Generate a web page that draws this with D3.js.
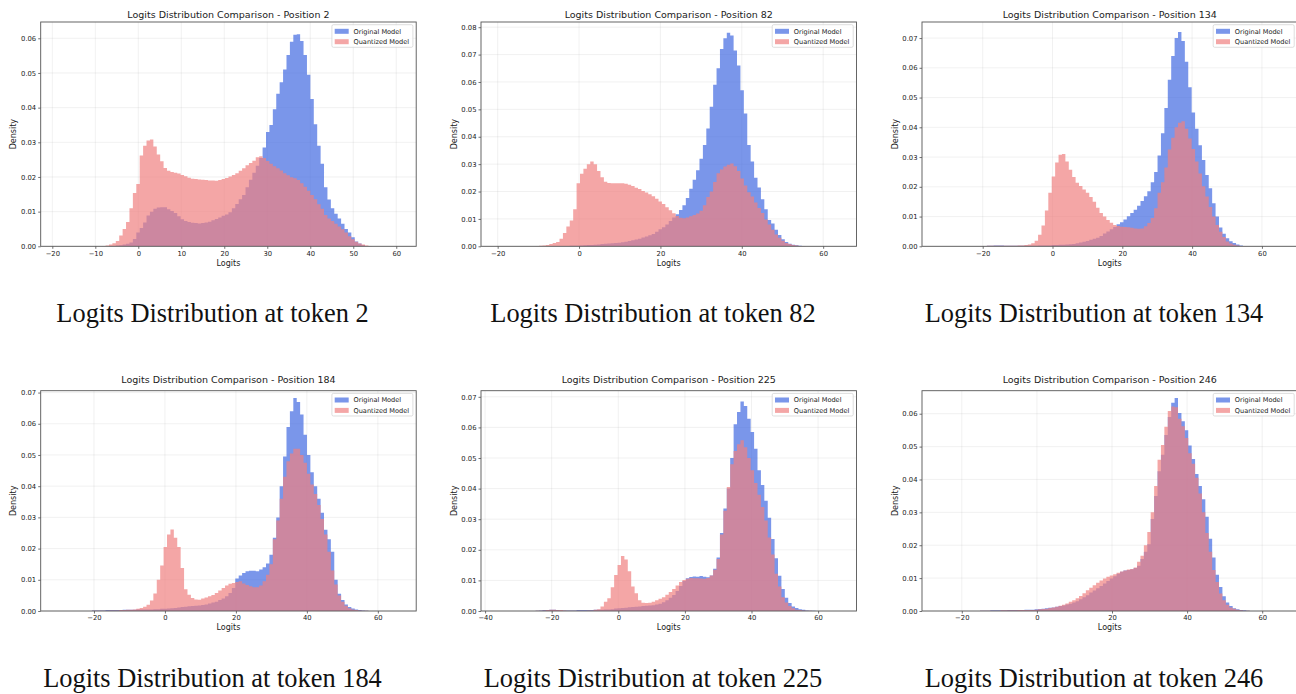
<!DOCTYPE html>
<html>
<head>
<meta charset="utf-8">
<script src="https://cdn.jsdelivr.net/npm/d3@7"></script>
<style>
  body { margin: 0; background: #fff; }
  text { font-family: "DejaVu Sans", sans-serif; }
</style>
</head>
<body>
<div id="chart"></div>
<script>
// token positions, one panel each
var positions = [2, 82, 134, 184, 225, 246];

// histogram bins: left edge of bin 0, bin width, index of the first listed bin
var binStarts = [-18.73, -19.9, -32.5, -30.2, -36.1, -26.05];
var binWidths = [0.794, 0.839, 0.978, 0.962, 1.025, 0.909];
var firstBins = [13, 11, 12, 10, 11, 12];

// y axis tops and tick labels
var yMaxes = [0.0647, 0.0819, 0.0754, 0.0706, 0.072, 0.067];
var yTickLabels = [
  [0, 0.01, 0.02, 0.03, 0.04, 0.05, 0.06],
  [0, 0.01, 0.02, 0.03, 0.04, 0.05, 0.06, 0.07, 0.08],
  [0, 0.01, 0.02, 0.03, 0.04, 0.05, 0.06, 0.07],
  [0, 0.01, 0.02, 0.03, 0.04, 0.05, 0.06, 0.07],
  [0, 0.01, 0.02, 0.03, 0.04, 0.05, 0.06, 0.07],
  [0, 0.01, 0.02, 0.03, 0.04, 0.05, 0.06]
];
var xTickLabels = [
  [-20, -10, 0, 10, 20, 30, 40, 50, 60],
  [-20, 0, 20, 40, 60],
  [-20, 0, 20, 40, 60],
  [-20, 0, 20, 40, 60],
  [-40, -20, 0, 20, 40, 60],
  [-20, 0, 20, 40, 60]
];

// densities per bin (Original Model)
var original2 = [0,0,0.0001,0.0001,0.0002,0.0003,0.0005,0.0007,0.0011,0.0021,
  0.0040,0.0053,0.0069,0.0089,0.0100,0.0108,0.0112,0.0113,0.0113,0.0107,
  0.0102,0.0096,0.0087,0.0078,0.0073,0.0070,0.0068,0.0067,0.0066,0.0067,
  0.0069,0.0071,0.0075,0.0079,0.0083,0.0088,0.0092,0.0098,0.0110,0.0122,
  0.0136,0.0148,0.0170,0.0192,0.0212,0.0232,0.0255,0.0285,0.0330,0.0350,
  0.0395,0.0440,0.0473,0.0510,0.0552,0.0590,0.0610,0.0612,0.0592,0.0552,
  0.0495,0.0425,0.0352,0.0290,0.0238,0.0170,0.0135,0.0110,0.0094,0.0080,
  0.0065,0.0050,0.0040,0.0026,0.0014,0.0008,0.0003,0.0001,0.0001];
var original82 = [0,0,0,0,0,0.0001,0.0001,0.0001,0.0001,0.0001,
  0.0002,0.0002,0.0002,0.0003,0.0004,0.0005,0.0005,0.0006,0.0007,0.0008,
  0.0009,0.0010,0.0011,0.0012,0.0013,0.0015,0.0017,0.0019,0.0022,0.0025,
  0.0028,0.0032,0.0036,0.0040,0.0045,0.0053,0.0062,0.0070,0.0080,0.0092,
  0.0105,0.0117,0.0133,0.0150,0.0176,0.0210,0.0243,0.0278,0.0320,0.0370,
  0.0430,0.0510,0.0590,0.0650,0.0720,0.0760,0.0780,0.0770,0.0715,0.0660,
  0.0570,0.0485,0.0370,0.0310,0.0250,0.0215,0.0172,0.0135,0.0096,0.0083,
  0.0060,0.0041,0.0026,0.0016,0.0009,0.0006,0.0004,0.0002,0.0001];
var original134 = [0.0001,0.0001,0.0002,0.0002,0.0003,0.0003,0.0003,0.0002,0.0002,0.0002,
  0.0002,0.0002,0.0002,0.0002,0.0002,0.0002,0.0002,0.0003,0.0003,0.0003,
  0.0003,0.0004,0.0004,0.0005,0.0005,0.0006,0.0007,0.0008,0.0010,0.0013,
  0.0015,0.0018,0.0022,0.0025,0.0029,0.0035,0.0043,0.0050,0.0057,0.0065,
  0.0074,0.0081,0.0090,0.0101,0.0112,0.0123,0.0136,0.0152,0.0168,0.0185,
  0.0215,0.0250,0.0305,0.0380,0.0465,0.0560,0.0640,0.0700,0.0720,0.0690,
  0.0620,0.0535,0.0450,0.0395,0.0340,0.0290,0.0240,0.0195,0.0145,0.0100,
  0.0063,0.0042,0.0027,0.0017,0.0011,0.0006,0.0003,0.0001,0.0001];
var original184 = [0.0002,0.0002,0.0002,0.0002,0.0003,0.0003,0.0003,0.0003,0.0003,0.0004,
  0.0004,0.0004,0.0004,0.0005,0.0005,0.0005,0.0005,0.0005,0.0006,0.0006,
  0.0007,0.0007,0.0008,0.0009,0.0010,0.0011,0.0013,0.0014,0.0015,0.0016,
  0.0017,0.0018,0.0019,0.0021,0.0024,0.0027,0.0030,0.0035,0.0040,0.0047,
  0.0058,0.0074,0.0104,0.0114,0.0122,0.0127,0.0129,0.0129,0.0127,0.0133,
  0.0140,0.0152,0.0180,0.0235,0.0300,0.0400,0.0495,0.0590,0.0640,0.0683,
  0.0670,0.0630,0.0565,0.0500,0.0445,0.0400,0.0360,0.0315,0.0260,0.0230,
  0.0190,0.0100,0.0055,0.0035,0.0021,0.0013,0.0008,0.0005,0.0003,0.0002,
  0.0001];
var original225 = [0.0001,0.0002,0.0003,0.0003,0.0004,0.0004,0.0003,0.0002,0.0002,0.0002,
  0.0002,0.0002,0.0003,0.0003,0.0003,0.0003,0.0003,0.0004,0.0004,0.0004,
  0.0005,0.0005,0.0006,0.0008,0.0009,0.0010,0.0011,0.0012,0.0013,0.0014,
  0.0015,0.0016,0.0017,0.0018,0.0019,0.0021,0.0024,0.0029,0.0035,0.0043,
  0.0052,0.0065,0.0082,0.0098,0.0107,0.0111,0.0113,0.0112,0.0114,0.0112,
  0.0110,0.0116,0.0138,0.0175,0.0255,0.0335,0.0400,0.0500,0.0610,0.0650,
  0.0685,0.0670,0.0628,0.0585,0.0530,0.0460,0.0412,0.0360,0.0305,0.0235,
  0.0172,0.0115,0.0072,0.0043,0.0026,0.0015,0.0010,0.0006,0.0004,0.0002,
  0.0001,0.0001];
var original246 = [0.0001,0.0001,0.0001,0.0002,0.0002,0.0002,0.0002,0.0002,0.0003,0.0003,
  0.0003,0.0003,0.0003,0.0004,0.0004,0.0004,0.0005,0.0006,0.0007,0.0008,
  0.0010,0.0011,0.0013,0.0015,0.0017,0.0020,0.0022,0.0026,0.0030,0.0036,
  0.0042,0.0048,0.0056,0.0062,0.0069,0.0076,0.0084,0.0091,0.0099,0.0106,
  0.0113,0.0119,0.0123,0.0125,0.0127,0.0131,0.0138,0.0158,0.0180,0.0203,
  0.0280,0.0350,0.0425,0.0475,0.0535,0.0590,0.0633,0.0648,0.0602,0.0577,
  0.0550,0.0503,0.0462,0.0417,0.0380,0.0340,0.0287,0.0220,0.0163,0.0110,
  0.0073,0.0045,0.0026,0.0015,0.0008,0.0005,0.0003,0.0002,0.0001];

// densities per bin (Quantized Model)
var quantized2 = [0.0001,0.0002,0.0005,0.0009,0.0015,0.0031,0.0050,0.0070,0.0110,0.0154,
  0.0180,0.0262,0.0290,0.0305,0.0308,0.0288,0.0265,0.0245,0.0226,0.0218,
  0.0214,0.0212,0.0210,0.0206,0.0202,0.0198,0.0195,0.0194,0.0193,0.0192,
  0.0191,0.0190,0.0190,0.0189,0.0191,0.0194,0.0197,0.0201,0.0206,0.0211,
  0.0218,0.0225,0.0234,0.0240,0.0247,0.0257,0.0260,0.0255,0.0246,0.0238,
  0.0231,0.0225,0.0219,0.0211,0.0205,0.0199,0.0196,0.0191,0.0182,0.0172,
  0.0160,0.0148,0.0136,0.0121,0.0108,0.0090,0.0080,0.0073,0.0065,0.0057,
  0.0049,0.0040,0.0029,0.0020,0.0013,0.0008,0.0005,0.0002,0.0001];
var quantized82 = [0.0001,0.0002,0.0003,0.0005,0.0008,0.0012,0.0016,0.0028,0.0049,0.0072,
  0.0094,0.0135,0.0230,0.0265,0.0283,0.0300,0.0310,0.0300,0.0275,0.0252,
  0.0236,0.0231,0.0230,0.0230,0.0230,0.0230,0.0228,0.0225,0.0220,0.0214,
  0.0209,0.0202,0.0196,0.0190,0.0183,0.0174,0.0164,0.0154,0.0143,0.0132,
  0.0121,0.0111,0.0104,0.0102,0.0105,0.0110,0.0114,0.0120,0.0130,0.0150,
  0.0180,0.0200,0.0235,0.0267,0.0280,0.0291,0.0298,0.0302,0.0292,0.0275,
  0.0248,0.0222,0.0197,0.0182,0.0160,0.0140,0.0122,0.0098,0.0080,0.0060,
  0.0043,0.0031,0.0020,0.0012,0.0008,0.0005,0.0003,0.0001,0.0001];
var quantized134 = [0.0001,0.0001,0.0002,0.0002,0.0002,0.0002,0.0002,0.0002,0.0002,0.0002,
  0.0002,0.0003,0.0003,0.0004,0.0006,0.0010,0.0019,0.0039,0.0070,0.0120,
  0.0180,0.0235,0.0282,0.0308,0.0310,0.0285,0.0257,0.0233,0.0214,0.0203,
  0.0191,0.0180,0.0166,0.0150,0.0130,0.0112,0.0100,0.0088,0.0079,0.0072,
  0.0068,0.0066,0.0065,0.0064,0.0062,0.0060,0.0059,0.0060,0.0067,0.0078,
  0.0095,0.0128,0.0180,0.0215,0.0265,0.0325,0.0365,0.0400,0.0415,0.0420,
  0.0395,0.0362,0.0327,0.0285,0.0245,0.0202,0.0167,0.0132,0.0100,0.0072,
  0.0049,0.0031,0.0016,0.0009,0.0005,0.0003,0.0001,0.0001,0];
var quantized184 = [0.0001,0.0001,0.0001,0.0001,0.0001,0.0002,0.0002,0.0002,0.0003,0.0003,
  0.0004,0.0004,0.0005,0.0007,0.0010,0.0014,0.0020,0.0034,0.0056,0.0100,
  0.0146,0.0205,0.0245,0.0261,0.0235,0.0205,0.0138,0.0070,0.0052,0.0042,
  0.0037,0.0036,0.0040,0.0043,0.0047,0.0051,0.0058,0.0066,0.0074,0.0082,
  0.0087,0.0090,0.0093,0.0095,0.0088,0.0083,0.0079,0.0076,0.0076,0.0082,
  0.0095,0.0116,0.0150,0.0230,0.0290,0.0360,0.0430,0.0480,0.0505,0.0520,
  0.0520,0.0500,0.0475,0.0440,0.0405,0.0375,0.0340,0.0295,0.0245,0.0190,
  0.0130,0.0085,0.0050,0.0030,0.0017,0.0009,0.0005,0.0003,0.0002,0.0001,
  0.0001];
var quantized225 = [0.0001,0.0001,0.0002,0.0003,0.0004,0.0004,0.0003,0.0003,0.0002,0.0001,
  0.0001,0.0001,0.0001,0.0001,0.0001,0.0002,0.0002,0.0004,0.0006,0.0015,
  0.0030,0.0042,0.0078,0.0118,0.0150,0.0180,0.0168,0.0130,0.0080,0.0058,
  0.0035,0.0027,0.0026,0.0027,0.0030,0.0035,0.0040,0.0045,0.0053,0.0062,
  0.0072,0.0083,0.0095,0.0101,0.0105,0.0108,0.0107,0.0107,0.0106,0.0105,
  0.0108,0.0116,0.0135,0.0170,0.0250,0.0328,0.0405,0.0480,0.0523,0.0545,
  0.0558,0.0535,0.0500,0.0460,0.0418,0.0380,0.0340,0.0296,0.0240,0.0185,
  0.0122,0.0080,0.0045,0.0028,0.0016,0.0009,0.0004,0.0003,0.0002,0.0001,
  0.0001,0];
var quantized246 = [0.0001,0.0001,0.0001,0.0001,0.0001,0.0001,0.0002,0.0002,0.0002,0.0002,
  0.0002,0.0003,0.0003,0.0003,0.0003,0.0003,0.0004,0.0005,0.0006,0.0007,
  0.0009,0.0011,0.0013,0.0016,0.0019,0.0023,0.0028,0.0033,0.0039,0.0046,
  0.0054,0.0063,0.0071,0.0078,0.0086,0.0093,0.0099,0.0104,0.0108,0.0112,
  0.0116,0.0120,0.0123,0.0126,0.0128,0.0132,0.0150,0.0168,0.0200,0.0240,
  0.0300,0.0380,0.0460,0.0505,0.0560,0.0608,0.0622,0.0620,0.0585,0.0562,
  0.0526,0.0480,0.0448,0.0405,0.0357,0.0300,0.0237,0.0180,0.0125,0.0088,
  0.0053,0.0033,0.0019,0.0011,0.0007,0.0004,0.0002,0.0001,0.0001];

var originals = [original2, original82, original134, original184, original225, original246];
var quantizeds = [quantized2, quantized82, quantized134, quantized184, quantized225, quantized246];
var seriesNames = ["Original Model", "Quantized Model"];

// layout of the 2x3 grid of axes
var colLefts = [40.7, 481, 922];
var colCaptions = [212.5, 653, 1094];
var rowTops = [22, 390.7];
var rowHeights = [224.3, 220.3];
var rowCaptions = [322.3, 687];
var plotWidth = 375.5;
var colors = ["royalblue", "lightcoral"];

var svg = d3.select("#chart")
  .append("svg")
  .attr("width", 1296)
  .attr("height", 694);

positions.forEach(function(pos, i) {
  var col = i % 3, row = Math.floor(i / 3);
  var width = plotWidth, height = rowHeights[row];
  var start = binStarts[i], w = binWidths[i];

  var g = svg.append("g")
    .attr("transform", "translate(" + colLefts[col] + "," + rowTops[row] + ")");

  // matplotlib pads x by 5% on each side of the 100 bins
  var x = d3.scaleLinear()
    .domain([start - 5 * w, start + 105 * w])
    .range([0, width]);

  var y = d3.scaleLinear()
    .domain([0, yMaxes[i]])
    .range([height, 0]);

  g.append("clipPath").attr("id", "clip" + i)
    .append("rect").attr("width", width).attr("height", height);

  //grid
  g.selectAll(".vgrid")
    .data(xTickLabels[i])
    .enter()
    .append("line")
    .attr("x1", d => x(d)).attr("x2", d => x(d))
    .attr("y1", 0).attr("y2", height)
    .attr("stroke", "#b0b0b0").attr("stroke-opacity", 0.22).attr("stroke-width", 0.8);

  g.selectAll(".hgrid")
    .data(yTickLabels[i])
    .enter()
    .append("line")
    .attr("x1", 0).attr("x2", width)
    .attr("y1", d => y(d)).attr("y2", d => y(d))
    .attr("stroke", "#b0b0b0").attr("stroke-opacity", 0.22).attr("stroke-width", 0.8);

  //histograms, blue first then red over it
  var area = d3.area()
    .curve(d3.curveStepAfter)
    .x(d => x(d[0]))
    .y0(y(0))
    .y1(d => y(d[1]));

  [originals[i], quantizeds[i]].forEach(function(values, s) {
    var pts = values.map(function(v, j) { return [start + (firstBins[i] + j) * w, v]; });
    pts.push([start + (firstBins[i] + values.length) * w, 0]);
    g.append("path")
      .datum(pts)
      .attr("clip-path", "url(#clip" + i + ")")
      .attr("d", area)
      .attr("fill", colors[s])
      .attr("fill-opacity", 0.7);
  });

  //axes
  var xAxis = g.append("g")
    .attr("transform", "translate(0," + height + ")")
    .call(d3.axisBottom(x).tickValues(xTickLabels[i]).tickSize(2.5).tickPadding(2).tickFormat(d3.format("d")));
  var yAxis = g.append("g")
    .call(d3.axisLeft(y).tickValues(yTickLabels[i]).tickSize(2.5).tickPadding(2).tickFormat(d3.format(".2f")));

  [xAxis, yAxis].forEach(function(a) {
    a.select(".domain").remove();
    a.selectAll("line").attr("stroke", "#333").attr("stroke-width", 0.7);
    a.selectAll("text")
      .attr("fill", "#222")
      .style("font-size", "6.8px")
      .style("font-family", "DejaVu Sans");
  });

  //frame
  g.append("rect")
    .attr("width", width)
    .attr("height", height)
    .attr("fill", "none")
    .attr("stroke", "#555")
    .attr("stroke-width", 0.9);

  //titles
  g.append("text")
    .attr("x", width / 2)
    .attr("y", row == 0 ? -4 : -7.5)
    .attr("text-anchor", "middle")
    .attr("fill", "#222")
    .style("font-size", "9.5px")
    .text("Logits Distribution Comparison - Position " + pos);

  g.append("text")
    .attr("x", width / 2)
    .attr("y", height + 19.5)
    .attr("text-anchor", "middle")
    .attr("fill", "#222")
    .style("font-size", "8px")
    .text("Logits");

  g.append("text")
    .attr("transform", "translate(-24.5," + (height / 2) + ") rotate(-90)")
    .attr("text-anchor", "middle")
    .attr("fill", "#222")
    .style("font-size", "8px")
    .text("Density");

  //legend
  var legend = g.append("g")
    .attr("transform", "translate(" + (width - 84.3) + ",2.7)");
  legend.append("rect")
    .attr("width", 81)
    .attr("height", 22.6)
    .attr("rx", 1.5)
    .attr("fill", "white")
    .attr("fill-opacity", 0.8)
    .attr("stroke", "#d0d0d0")
    .attr("stroke-width", 0.7);
  seriesNames.forEach(function(name, s) {
    legend.append("rect")
      .attr("x", 2.8)
      .attr("y", 4.1 + s * 10.4)
      .attr("width", 14)
      .attr("height", 5)
      .attr("fill", colors[s])
      .attr("fill-opacity", 0.7);
    legend.append("text")
      .attr("x", 21.6)
      .attr("y", 8.9 + s * 10.4)
      .attr("fill", "#222")
      .style("font-size", "6.6px")
      .text(name);
  });

  //caption under the figure
  svg.append("text")
    .attr("x", colCaptions[col])
    .attr("y", rowCaptions[row])
    .attr("text-anchor", "middle")
    .style("font-family", "Liberation Serif")
    .style("font-size", "26.4px")
    .attr("fill", "#111")
    .text("Logits Distribution at token " + pos);
});
</script>
</body>
</html>
